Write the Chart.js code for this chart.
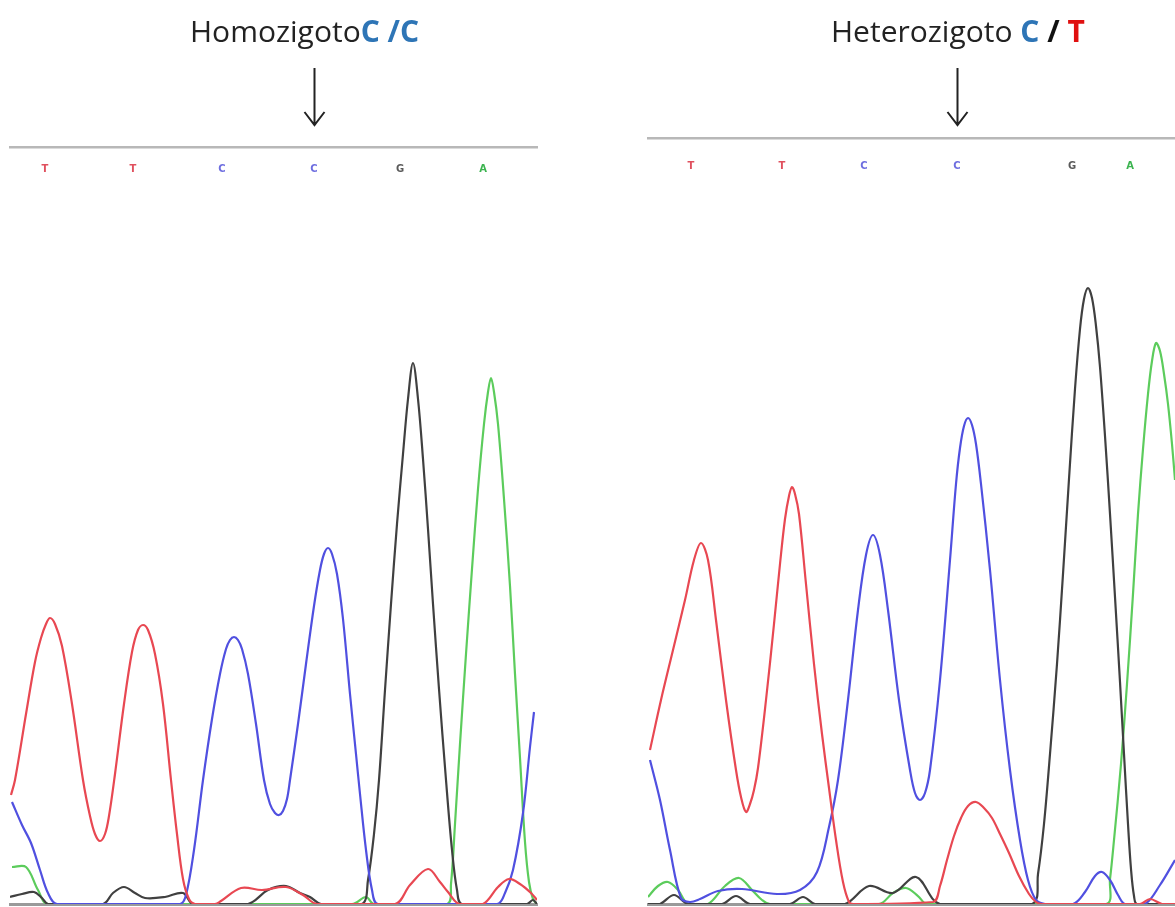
<!DOCTYPE html>
<html>
<head>
<meta charset="utf-8">
<script src="https://cdn.jsdelivr.net/npm/chart.js@4.4.1/dist/chart.umd.min.js"></script>
<style>
  body { margin: 0; background: #fff; }
  #wrap { position: relative; width: 1175px; height: 907px; overflow: hidden; background: #fff; }
  canvas { position: absolute; top: 0; }
  .titulo { position: absolute; top: 12px; font-family: 'Open Sans', sans-serif; font-size: 30px; line-height: 38px; color: #222; white-space: pre; }
  .azul { color: #2e75b6; font-weight: bold; }
  .rojo { color: #e01010; font-weight: bold; }
  .negro { color: #111; font-weight: bold; }
</style>
</head>
<body>
<div id="wrap">
  <canvas id="homo" width="545" height="907" style="left:0"></canvas>
  <canvas id="hetero" width="535" height="907" style="left:640px"></canvas>
  <div class="titulo" style="left:190px">Homozigoto<span class="azul">C /C</span></div>
  <div class="titulo" style="left:831px">Heterozigoto <span class="azul">C</span> <span class="negro">/</span> <span class="rojo">T</span></div>
</div>
<script>
'use strict'

// bases llamadas y posicion (scan) de cada pico
const bases = ['T', 'T', 'C', 'C', 'G', 'A'];
const homoPos = [35, 123, 212, 304, 390, 473];
const heteroPos = [43, 134, 216, 309, 424, 482];
const snp = 3; // base marcada con la flecha

// homocigoto C/C : [scan, intensidad]
const homoT = [[1,109],[5,124],[16,190],[25,242],[31,266],[36,280],[40,286],[45,280],[52,258],[62,200],
  [73,124],[80,88],[85,70],[90,63],[95,70],[99,88],[105,130],[114,200],[122,252],[128,274],[133,279],
  [138,274],[145,250],[153,200],[161,124],[167,70],[173,25],[179,5],[185,0],[205,0],[211,3],[231,16],
  [252,14],[276,17],[293,9],[307,0],[385,0],[400,19],[418,35],[430,22],[438,12],[449,0],[473,0],[488,17],
  [499,25],[510,20],[521,11],[527,4]];
const homoC = [[2,102],[12,79],[21,61],[30,34],[38,11],[47,0],[170,0],[176,9],[184,54],[193,124],[202,185],
  [210,230],[216,255],[220,264],[224,267],[228,264],[232,255],[238,230],[246,180],[254,124],[260,100],
  [265,91],[269,89],[273,93],[277,105],[280,124],[288,180],[296,240],[304,298],[310,334],[314,350],[318,356],
  [322,350],[327,330],[333,285],[340,210],[346,150],[350,110],[356,54],[362,14],[368,0],[487,0],[495,11],
  [503,34],[513,91],[520,157],[524,192]];
const homoG = [[0,7],[12,10],[24,12],[32,6],[38,0],[93,0],[103,11],[114,17],[125,11],[135,6],[155,7],[173,11],
  [183,0],[238,0],[258,14],[276,18],[290,11],[300,7],[311,0],[352,0],[358,24],[364,70],[369,124],[375,214],
  [381,300],[387,380],[393,450],[398,505],[403,541],[408,505],[413,445],[418,375],[423,300],[429,215],
  [436,124],[442,54],[447,14],[452,0],[517,0],[523,4],[527,0]];
const homoA = [[2,37],[16,37],[28,14],[38,0],[342,0],[356,7],[364,0],[437,0],[441,20],[445,80],[450,160],
  [456,250],[462,335],[468,415],[474,480],[478,512],[481,526],[484,512],[488,480],[494,405],[500,318],
  [505,230],[510,146],[515,62],[519,22],[523,5],[527,0]];

// heterocigoto C/T : [scan, intensidad]
const heteroT = [[2,154],[13,204],[25,254],[37,304],[46,344],[53,361],[60,344],[68,284],[78,204],[88,134],
  [93,107],[98,92],[102,100],[106,114],[110,136],[118,204],[126,280],[132,340],[137,385],[141,408],[144,417],
  [147,410],[151,390],[158,320],[166,240],[174,170],[181,116],[188,64],[195,22],[201,2],[205,0],[285,2],
  [292,18],[299,44],[306,68],[313,86],[320,98],[328,102],[336,96],[344,86],[352,70],[361,51],[371,28],
  [381,10],[388,2],[394,0],[492,0],[502,5],[514,0],[527,0]];
const heteroC = [[2,144],[12,104],[22,54],[33,6],[42,2],[52,5],[70,13],[94,15],[129,10],[152,14],[169,32],
  [181,77],[190,124],[200,204],[210,294],[218,349],[225,369],[232,349],[240,294],[251,204],[262,134],[267,111],
  [272,104],[277,111],[282,134],[292,224],[302,344],[308,420],[312,456],[316,478],[320,486],[324,479],
  [328,460],[333,420],[342,334],[352,224],[362,134],[372,64],[380,24],[388,4],[397,0],[425,0],[437,12],
  [447,28],[454,32],[462,24],[470,9],[477,0],[497,0],[512,19],[527,44]];
const heteroG = [[0,0],[12,0],[26,9],[40,0],[74,0],[88,8],[102,0],[142,0],[155,7],[167,0],[197,0],[221,18],
  [245,11],[268,27],[292,0],[384,0],[390,30],[396,80],[402,150],[409,240],[415,330],[421,425],[427,515],
  [432,575],[436,605],[440,616],[444,606],[448,578],[452,537],[457,468],[462,390],[467,307],[472,222],
  [476,150],[480,80],[483,35],[486,8],[489,0],[527,0]];
const heteroA = [[0,7],[10,18],[20,22],[30,14],[40,0],[60,0],[77,18],[91,26],[104,14],[114,4],[122,0],[231,0],
  [245,11],[258,16],[270,8],[279,0],[458,0],[462,25],[466,64],[473,140],[479,220],[485,310],[490,390],
  [495,455],[500,510],[504,543],[508,561],[512,553],[516,530],[520,500],[524,460],[527,424]];

const colores = { T: '#e84852', C: '#5050e0', G: '#404040', A: '#5ccc5c' };
const coloresBase = { T: '#e0505e', C: '#6e6ee0', G: '#5a5a5a', A: '#3cb450' };

const flecha = {
  id: 'flecha',
  afterDraw(chart, args, opts) {
    const x = Math.round(chart.scales.x.getPixelForValue(opts.pos)) + 0.5;
    const ctx = chart.ctx;
    ctx.save();
    ctx.strokeStyle = '#222';
    ctx.lineWidth = 2;
    ctx.beginPath();
    ctx.moveTo(x, opts.y0);
    ctx.lineTo(x, opts.y1);
    ctx.moveTo(x - 10, opts.y1 - 13);
    ctx.lineTo(x, opts.y1);
    ctx.lineTo(x + 10, opts.y1 - 13);
    ctx.stroke();
    ctx.restore();
  }
};

function serie(pts, base) {
  return {
    label: base,
    data: pts.map(p => ({ x: p[0], y: p[1] })),
    borderColor: colores[base],
    borderWidth: 2.2,
    pointRadius: 0,
    tension: 0.35,
    fill: false
  };
}

function crom(id, series, pos, gap, ymax, pad) {
  return new Chart(document.getElementById(id), {
    type: 'line',
    data: { datasets: series },
    options: {
      responsive: false,
      animation: false,
      layout: { padding: pad },
      plugins: {
        legend: { display: false },
        tooltip: { enabled: false },
        flecha: { pos: pos[snp], y0: 68, y1: 125 }
      },
      scales: {
        x: {
          type: 'linear', min: 0, max: 527,
          grid: { display: false, drawTicks: false },
          ticks: { display: false },
          border: { color: '#9a9a9a', width: 3 },
          afterFit: s => { s.height = 0 }
        },
        x2: {
          type: 'linear', position: 'top', min: 0, max: 527,
          grid: { display: false, drawTicks: false },
          border: { color: '#b8b8b8', width: 2.5 },
          afterBuildTicks: s => { s.ticks = pos.map(v => ({ value: v })) },
          afterFit: s => { s.height = 0 },
          ticks: {
            mirror: true, padding: gap, autoSkip: false, maxRotation: 0,
            font: { size: 10, weight: 'bold', family: 'DejaVu Sans' },
            callback: (v, i) => bases[i],
            color: c => coloresBase[bases[c.index]]
          }
        },
        y: { display: false, min: 0, max: ymax }
      }
    },
    plugins: [flecha]
  });
}

crom('homo', [serie(homoT, 'T'), serie(homoC, 'C'), serie(homoG, 'G'), serie(homoA, 'A')],
  homoPos, 16, 757, { left: 10, right: 8, top: 147, bottom: 3 });
crom('hetero', [serie(heteroT, 'T'), serie(heteroC, 'C'), serie(heteroG, 'G'), serie(heteroA, 'A')],
  heteroPos, 22, 766, { left: 8, right: 0, top: 138, bottom: 3 });
</script>
</body>
</html>
